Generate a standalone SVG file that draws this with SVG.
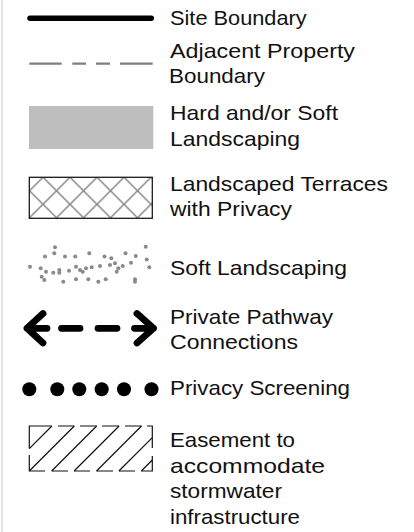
<svg xmlns="http://www.w3.org/2000/svg" width="414" height="532" viewBox="0 0 414 532">
  <style>
    .lbl { font-family: "Liberation Sans", Arial, sans-serif; font-size: 21px; fill: #111; }
    .hatchbox { fill: url(#cross); stroke: #1a1a1a; stroke-width: 1.3; }
    .dot { fill: #8a8a8a; }
    .scr { fill: #000; }
    .arrow { fill: none; stroke: #000; stroke-width: 6.8; stroke-linecap: round; stroke-linejoin: round; }
    .ease { fill: none; stroke: #111; stroke-width: 1.2; }
  </style>
  <defs>
    <!-- diamond cross-hatch for terraces -->
    <pattern id="cross" patternUnits="userSpaceOnUse" x="16" y="177.3" width="27" height="27">
      <rect width="27" height="27" fill="#fff"/>
      <path d="M0,0 L27,27 M27,0 L0,27" stroke="#888" stroke-width="1.5"/>
    </pattern>
  </defs>

  <rect width="414" height="532" fill="#fff"/>
  <!-- faint frame edge on the left -->
  <line x1="2" y1="0" x2="2" y2="532" stroke="#e3e3e3" stroke-width="2"/>

  <g id="site-boundary">
    <line x1="30" y1="18.3" x2="151.3" y2="18.3" stroke="#000" stroke-width="5.5" stroke-linecap="round"/>
    <text class="lbl" x="170" y="24.5" textLength="136.7" lengthAdjust="spacingAndGlyphs">Site Boundary</text>
  </g>

  <g id="adjacent-boundary">
    <path d="M29.3,63.7 H61.7 M72.3,63.7 H86 M96,63.7 H110 M120,63.7 H152.7" stroke="#7f7f7f" stroke-width="2.3" fill="none"/>
    <text class="lbl" x="170" y="58" textLength="185" lengthAdjust="spacingAndGlyphs">Adjacent Property</text>
    <text class="lbl" x="169" y="83" textLength="96" lengthAdjust="spacingAndGlyphs">Boundary</text>
  </g>

  <g id="hard-soft-landscaping">
    <rect x="29" y="106" width="124.3" height="43" fill="#bebebe"/>
    <text class="lbl" x="170" y="120" textLength="168" lengthAdjust="spacingAndGlyphs">Hard and/or Soft</text>
    <text class="lbl" x="170" y="145.5" textLength="130" lengthAdjust="spacingAndGlyphs">Landscaping</text>
  </g>

  <g id="landscaped-terraces">
    <rect class="hatchbox" x="29.3" y="177.3" width="123" height="41"/>
    <text class="lbl" x="170" y="190.5" textLength="218" lengthAdjust="spacingAndGlyphs">Landscaped Terraces</text>
    <text class="lbl" x="170" y="216" textLength="122" lengthAdjust="spacingAndGlyphs">with Privacy</text>
  </g>

  <g id="soft-landscaping">
    <g class="dot">
      <circle cx="55" cy="247.3" r="2"/><circle cx="145.7" cy="246.7" r="2"/>
      <circle cx="45" cy="256.5" r="2"/><circle cx="54.3" cy="253.3" r="2"/>
      <circle cx="65" cy="256.5" r="2"/><circle cx="75.3" cy="256.5" r="2"/>
      <circle cx="89.3" cy="253.3" r="2"/><circle cx="104.5" cy="256.5" r="2"/>
      <circle cx="111.3" cy="258.3" r="2"/><circle cx="125.5" cy="253.3" r="2"/>
      <circle cx="135.8" cy="256" r="2"/><circle cx="146.7" cy="259.5" r="2"/>
      <circle cx="30" cy="266.7" r="2"/><circle cx="40.7" cy="268.3" r="2"/>
      <circle cx="46" cy="271.7" r="2"/><circle cx="53.3" cy="272.7" r="2"/>
      <circle cx="59.3" cy="270" r="2"/><circle cx="59.3" cy="272.7" r="2"/>
      <circle cx="69" cy="270.7" r="2"/><circle cx="76" cy="266.7" r="2"/>
      <circle cx="80" cy="270" r="2"/><circle cx="82.7" cy="271.7" r="2"/>
      <circle cx="86" cy="268.3" r="2"/><circle cx="91.7" cy="267.3" r="2"/>
      <circle cx="100" cy="266" r="2"/><circle cx="110" cy="265" r="2"/>
      <circle cx="115" cy="263.3" r="2"/><circle cx="118.3" cy="268.3" r="2"/>
      <circle cx="122.7" cy="266" r="2"/><circle cx="116.7" cy="271.7" r="2"/>
      <circle cx="131" cy="262.7" r="2"/><circle cx="149.3" cy="267.3" r="2"/>
      <circle cx="41.7" cy="276.7" r="2"/><circle cx="44.3" cy="280" r="2"/>
      <circle cx="63.3" cy="281.7" r="2"/><circle cx="76" cy="279.3" r="2"/>
      <circle cx="88.3" cy="279.3" r="2"/><circle cx="98.3" cy="281.7" r="2"/>
      <circle cx="105.7" cy="279.3" r="2"/><circle cx="135" cy="279.3" r="2"/>
      <circle cx="135" cy="281.7" r="2"/>
    </g>
    <text class="lbl" x="170" y="274.5" textLength="177" lengthAdjust="spacingAndGlyphs">Soft Landscaping</text>
  </g>

  <g id="private-pathway">
    <path class="arrow" d="M43,313.5 L27,328.3 L43,343 M27,328.3 H47"/>
    <path class="arrow" d="M61.5,328.3 H80 M98,328.3 H117"/>
    <path class="arrow" d="M134.5,328.3 H153.5 M137,313.5 L153.5,328.3 L137,343"/>
    <text class="lbl" x="170" y="323.5" textLength="163" lengthAdjust="spacingAndGlyphs">Private Pathway</text>
    <text class="lbl" x="170" y="349" textLength="128" lengthAdjust="spacingAndGlyphs">Connections</text>
  </g>

  <g id="privacy-screening">
    <g class="scr">
      <circle cx="29.3" cy="389.3" r="7"/><circle cx="57.3" cy="389.3" r="7"/>
      <circle cx="79.3" cy="389.3" r="7"/><circle cx="101.7" cy="389.3" r="7"/>
      <circle cx="124" cy="389.3" r="7"/><circle cx="151.5" cy="389.3" r="7"/>
    </g>
    <text class="lbl" x="170" y="395" textLength="180" lengthAdjust="spacingAndGlyphs">Privacy Screening</text>
  </g>

  <g id="easement">
    <!-- broken outline -->
    <path class="ease" d="M29.3,448.5 V426 H51.9 M58,426 H74.3 M80,426 H96.7 M102,426 H119.1 M125,426 H141.5 M147,426 H152.3 V448 M152.3,456 V471 H141.3 M135,471 H118.9 M113,471 H96.5 M90,471 H74.1 M68,471 H51.7 M45,471 H29.3 V455"/>
    <!-- diagonal hatch -->
    <path class="ease" d="M29.3,448.6 L51.9,426 M29.3,471 L74.3,426 M51.7,471 L96.7,426 M74.1,471 L119.1,426 M96.5,471 L141.5,426 M118.9,471 L152.3,437.6 M141.3,471 L152.3,460"/>
    <text class="lbl" x="170" y="447" textLength="125" lengthAdjust="spacingAndGlyphs">Easement to</text>
    <text class="lbl" x="170" y="472.5" textLength="155" lengthAdjust="spacingAndGlyphs">accommodate</text>
    <text class="lbl" x="170" y="498" textLength="112" lengthAdjust="spacingAndGlyphs">stormwater</text>
    <text class="lbl" x="170" y="523.5" textLength="130" lengthAdjust="spacingAndGlyphs">infrastructure</text>
  </g>
</svg>
